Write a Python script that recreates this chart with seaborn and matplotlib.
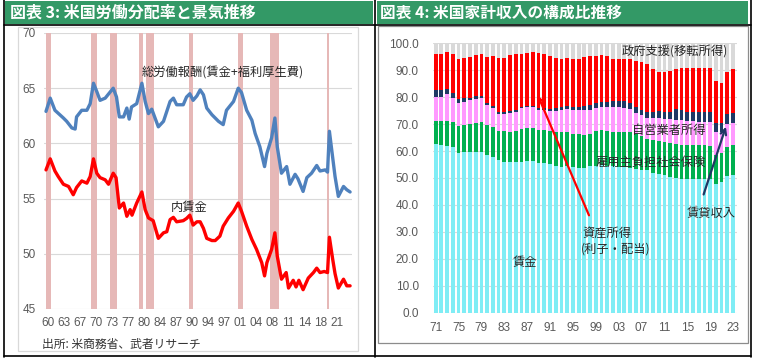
import numpy as np
import pandas as pd
import matplotlib
matplotlib.use("Agg")
import matplotlib.pyplot as plt
import seaborn as sns
from matplotlib.patches import Rectangle
from matplotlib.lines import Line2D

# ---------------- Left chart data: US labour share (%) ----------------
total_years = [1960.0, 1960.9, 1961.9, 1963.7, 1964.4, 1965.5, 1966.2, 1966.5, 1967.6, 1968.7,
               1969.4, 1970.1, 1970.8, 1971.5, 1972.6, 1974.3, 1975.0, 1975.6, 1976.5, 1977.2,
               1977.7, 1978.2, 1979.3, 1980.4, 1981.1, 1981.8, 1982.5, 1983.9, 1985.0, 1986.4,
               1987.1, 1987.8, 1989.2, 1989.9, 1990.6, 1991.3, 1992.1, 1992.8, 1993.5, 1994.2,
               1995.3, 1996.0, 1996.7, 1997.7, 1998.4, 1999.9, 2000.9, 2001.6, 2002.7, 2003.8,
               2004.5, 2005.5, 2006.5, 2007.0, 2008.0, 2008.7, 2009.2, 2010.1, 2011.2, 2011.9,
               2013.0, 2013.6, 2014.7, 2015.5, 2016.5, 2017.6, 2018.3, 2019.4, 2019.9, 2020.3,
               2021.0, 2021.5, 2022.2, 2023.3, 2024.0, 2024.7]
total_comp = [62.9, 64.1, 63.0, 62.3, 62.0, 61.4, 61.3, 62.4, 63.0, 63.0,
              63.6, 65.45, 64.7, 63.9, 64.1, 65.0, 64.2, 62.4, 62.4, 63.2,
              62.2, 63.3, 63.6, 65.45, 63.8, 62.7, 63.1, 61.5, 62.0, 63.8,
              64.1, 63.5, 63.5, 64.2, 64.5, 63.9, 64.3, 64.85, 64.4, 63.2,
              62.6, 62.3, 62.0, 61.7, 63.0, 63.8, 65.0, 64.6, 63.0, 62.1,
              60.9, 59.7, 57.9, 59.1, 60.5, 62.3, 59.7, 57.3, 57.9, 56.3,
              57.2, 56.8, 55.65, 56.9, 57.3, 58.0, 57.5, 57.6, 57.4, 61.1,
              58.7, 57.0, 55.2, 56.1, 55.8, 55.6]

wage_years = [1960.0, 1960.9, 1961.9, 1962.6, 1963.7, 1964.8, 1965.8, 1966.5, 1967.6, 1968.7,
              1969.4, 1970.1, 1970.8, 1971.5, 1972.6, 1973.3, 1974.3, 1974.9, 1975.6, 1976.5,
              1977.2, 1977.9, 1978.3, 1979.3, 1980.4, 1981.1, 1981.8, 1982.8, 1983.9, 1985.0,
              1985.7, 1986.4, 1987.1, 1987.8, 1989.2, 1989.9, 1990.6, 1991.3, 1992.1, 1992.8,
              1993.5, 1994.2, 1995.3, 1996.0, 1997.0, 1997.7, 1998.8, 1999.9, 2000.9, 2001.6,
              2002.7, 2003.8, 2004.8, 2005.9, 2006.5, 2007.0, 2008.0, 2008.7, 2009.2, 2010.1,
              2011.1, 2011.6, 2012.6, 2013.2, 2013.8, 2014.7, 2015.8, 2016.9, 2017.6, 2018.3,
              2019.2, 2019.9, 2020.3, 2021.0, 2021.5, 2022.2, 2023.3, 2024.0, 2024.7]
wage_share = [57.6, 58.6, 57.5, 57.0, 56.3, 56.1, 55.35, 56.0, 56.6, 56.4,
              57.0, 58.6, 57.3, 56.9, 56.7, 56.3, 57.3, 56.9, 54.15, 54.6,
              53.4, 54.0, 53.5, 54.6, 55.6, 54.0, 53.25, 53.0, 51.4, 51.9,
              52.0, 53.1, 53.3, 52.9, 53.0, 53.2, 53.5, 52.6, 52.9, 52.9,
              52.3, 51.4, 51.2, 51.2, 51.6, 52.5, 53.25, 53.85, 54.6, 53.85,
              52.5, 51.3, 50.4, 49.2, 48.0, 49.2, 50.4, 51.9, 49.8, 47.7,
              48.3, 46.9, 47.6, 47.0, 47.6, 46.75, 47.8, 48.3, 48.7, 48.3,
              48.4, 48.3, 51.5, 49.5, 48.2, 46.9, 47.7, 47.1, 47.1]

recession_start = [1959.95, 1969.6, 1973.6, 1979.8, 1981.3, 1990.4, 2000.85, 2007.65, 2019.75]
recession_end = [1961.0, 1970.8, 1975.0, 1980.6, 1982.9, 1991.2, 2001.85, 2009.5, 2020.2]

left_tick_labels = ["60", "63", "67", "70", "73", "77", "80", "84", "87", "90",
                    "94", "97", "01", "04", "08", "11", "14", "18", "21"]

# ---------------- Right chart data: household income composition (%) ----------------
years = list(range(1971, 2024))
wage = [62.5, 62.1, 61.7, 61.4, 59.2, 59.6, 59.5, 59.8, 59.8, 58.7,
        57.7, 56.5, 56.1, 55.9, 55.9, 56.1, 56.4, 56.4, 55.5, 55.4,
        55.1, 54.4, 54.2, 54.3, 53.9, 53.7, 53.8, 54.3, 54.6, 54.8,
        54.6, 54.3, 54.1, 54.0, 53.8, 53.5, 53.1, 52.8, 51.9, 51.6,
        51.0, 50.4, 50.0, 49.8, 49.8, 49.8, 49.8, 49.8, 49.8, 47.7,
        48.4, 50.6, 51.0]
employer_ins = [8.6, 9.2, 9.4, 9.4, 10.0, 10.0, 10.6, 10.5, 10.9, 11.0,
                11.1, 11.1, 11.2, 11.3, 11.6, 12.0, 12.1, 12.3, 12.3, 12.4,
                12.4, 12.8, 12.9, 12.6, 12.6, 12.6, 12.2, 12.2, 12.8, 12.9,
                12.9, 12.9, 13.0, 13.0, 13.1, 12.7, 12.4, 11.8, 12.1, 12.2,
                12.4, 12.6, 12.5, 12.4, 12.4, 12.4, 12.4, 12.4, 12.1, 10.7,
                10.7, 10.9, 11.2]
self_emp = [9.1, 8.9, 9.9, 9.0, 8.8, 8.7, 8.7, 9.1, 8.9, 7.5,
            7.1, 6.3, 6.6, 7.1, 7.0, 8.0, 7.9, 7.6, 7.6, 7.4,
            7.4, 7.8, 8.1, 8.6, 8.7, 8.9, 9.4, 8.9, 8.7, 8.5,
            8.9, 9.2, 9.3, 9.1, 8.7, 7.8, 7.9, 7.8, 8.2, 8.4,
            8.5, 8.9, 9.2, 9.3, 9.0, 9.0, 8.7, 8.6, 8.8, 8.5,
            7.8, 8.4, 8.1]
rent = [2.5, 2.5, 2.0, 1.7, 1.3, 1.5, 1.0, 1.0, 0.8, 0.8,
        0.7, 0.7, 0.7, 0.6, 0.7, 0.4, 0.3, 0.4, 0.5, 0.7,
        0.7, 1.0, 1.0, 1.2, 1.2, 1.2, 1.3, 1.6, 1.9, 2.1,
        1.9, 2.3, 2.2, 2.4, 2.1, 2.5, 1.8, 2.2, 2.4, 2.7,
        2.7, 2.7, 3.9, 3.7, 3.4, 3.2, 3.5, 3.6, 3.7, 3.4,
        3.4, 3.7, 3.7]
asset = [13.3, 13.3, 13.8, 14.5, 14.9, 14.7, 15.1, 15.3, 15.6, 16.9,
         18.7, 19.9, 19.9, 20.8, 20.8, 19.5, 19.7, 20.1, 20.5, 20.1,
         19.7, 18.5, 18.0, 17.8, 17.8, 17.8, 18.2, 18.3, 17.3, 17.4,
         17.0, 15.5, 15.6, 15.7, 16.6, 16.9, 18.0, 17.6, 15.7, 14.6,
         14.6, 15.1, 14.9, 15.5, 16.1, 16.3, 16.4, 16.4, 16.3, 15.8,
         14.8, 15.6, 16.3]
transfer = [4.0, 4.0, 3.2, 4.0, 5.8, 5.5, 5.1, 4.3, 4.0, 5.1,
            4.7, 5.5, 5.5, 4.3, 4.0, 4.0, 3.6, 3.2, 3.6, 4.0,
            4.7, 5.5, 5.8, 5.5, 5.8, 5.8, 5.1, 4.7, 4.7, 4.3,
            4.7, 5.8, 5.8, 5.8, 5.7, 6.6, 6.8, 7.8, 9.7, 10.5,
            10.8, 10.3, 9.5, 9.3, 9.3, 9.3, 9.2, 9.2, 9.3, 13.9,
            14.9, 10.8, 9.7]

comp_names = ["政府支援(移転所得)", "資産所得", "賃貸収入", "自営業者所得", "雇用主負担社会保険", "賃金"]
comp_values = [transfer, asset, rent, self_emp, employer_ins, wage]
comp_colors = ["#D9D9D9", "#FF0000", "#1F3864", "#FF99FF", "#00B050", "#7FEDF5"]
right_tick_years = list(range(1971, 2024, 4))

# ---------------- Styling ----------------
sns.set_style("white")
plt.rcParams["font.family"] = ["Noto Sans CJK JP", "DejaVu Sans"]
plt.rcParams["axes.unicode_minus"] = False

W, H = 759, 360
fig = plt.figure(figsize=(W / 100, H / 100), dpi=100)


def fx(x):
    return x / W


def fy(y):
    return 1 - y / H


TICK_COLOR = "#595959"
TXT = "#262626"

# frames / headers
for (x0, x1) in [(5, 372.5), (377, 748)]:
    fig.add_artist(Rectangle((fx(x0), fy(23.5)), fx(x1) - fx(x0), fy(1) - fy(23.5),
                             transform=fig.transFigure, facecolor="#339966",
                             edgecolor="none", zorder=0))
fig.text(fx(10), fy(12.5), "図表 3: 米国労働分配率と景気推移", color="white",
         fontsize=11.5, fontweight="bold", va="center", ha="left")
fig.text(fx(380), fy(12.5), "図表 4: 米国家計収入の構成比推移", color="white",
         fontsize=11.3, fontweight="bold", va="center", ha="left")

# light boxes around plot areas
fig.add_artist(Rectangle((fx(18.3), fy(350.7)), fx(358.3) - fx(18.3), fy(26.7) - fy(350.7),
                         transform=fig.transFigure, facecolor="none",
                         edgecolor="#D9D9D9", lw=0.9, zorder=0))
fig.add_artist(Rectangle((fx(378.3), fy(342.7)), fx(747.7) - fx(378.3), fy(26) - fy(342.7),
                         transform=fig.transFigure, facecolor="none",
                         edgecolor="#8C8C8C", lw=0.9, zorder=0))

# black table lines
for x in [3.8, 374.5, 750.8]:
    fig.add_artist(Line2D([fx(x), fx(x)], [fy(0), fy(357)], transform=fig.transFigure,
                          color="black", lw=1.2))
for y in [24.5, 356.3]:
    fig.add_artist(Line2D([fx(3.8), fx(750.8)], [fy(y), fy(y)], transform=fig.transFigure,
                          color="black", lw=1.2))

# ---------------- Left chart ----------------
axL = fig.add_axes([fx(44), fy(309), fx(352) - fx(44), fy(33) - fy(309)])
for s, e in zip(recession_start, recession_end):
    axL.axvspan(s, e, color="#E6B8B7", lw=0, zorder=1)
sns.lineplot(x=total_years, y=total_comp, ax=axL, color="#4F81BD", lw=2.4,
             estimator=None, sort=False, zorder=3)
sns.lineplot(x=wage_years, y=wage_share, ax=axL, color="#FF0000", lw=2.4,
             estimator=None, sort=False, zorder=3)
axL.set_xlim(1960 + (44 - 46) / 4.7, 1960 + (352 - 46) / 4.7)
axL.set_ylim(45, 70)
axL.set_yticks([45, 50, 55, 60, 65, 70])
axL.grid(axis="y", color="#D9D9D9", lw=0.8, zorder=0)
axL.grid(axis="x", visible=False)
axL.set_axisbelow(True)
for sp in axL.spines.values():
    sp.set_visible(False)
xt = np.linspace(1960.35, 2021.85, len(left_tick_labels))
axL.set_xticks(xt)
axL.set_xticklabels(left_tick_labels)
axL.tick_params(axis="x", length=3, width=0.8, color="#BFBFBF", pad=3,
                labelsize=8.5, labelcolor=TICK_COLOR)
axL.tick_params(axis="y", length=0, pad=6, labelsize=8.5, labelcolor=TICK_COLOR)
for lab in axL.get_xticklabels() + axL.get_yticklabels():
    lab.set_fontfamily(["Liberation Sans", "DejaVu Sans"])
axL.set_xlabel("")
axL.set_ylabel("")
axL.text(1997.7, 66.35, "総労働報酬(賃金+福利厚生費)", ha="center", va="center",
         fontsize=8.8, color=TXT, zorder=4)
axL.text(1990.4, 54.15, "内賃金", ha="center", va="center", fontsize=8.8, color=TXT, zorder=4)
fig.text(fx(42), fy(344), "出所: 米商務省、武者リサーチ", ha="left", va="center",
         fontsize=8.5, color="#333333")

# ---------------- Right chart ----------------
long = pd.DataFrame({
    "year": np.tile(years, len(comp_names)),
    "component": np.repeat(comp_names, len(years)),
    "value": np.concatenate([np.asarray(v, dtype=float) for v in comp_values]),
})
axR = fig.add_axes([fx(432.8), fy(312.7), fx(736.7) - fx(432.8), fy(43.3) - fy(312.7)])
sns.histplot(data=long, x="year", weights="value", hue="component",
             hue_order=comp_names, palette=dict(zip(comp_names, comp_colors)),
             multiple="stack", discrete=True, shrink=0.66, alpha=1, linewidth=0,
             legend=False, ax=axR, zorder=2)
axR.set_xlim(1970.5, 2023.64)
axR.set_ylim(0, 100)
axR.set_yticks(np.arange(0, 101, 10))
axR.set_yticklabels([f"{v:.1f}" for v in np.arange(0, 101, 10)])
axR.grid(axis="y", color="#D9D9D9", lw=0.8, zorder=0)
axR.grid(axis="x", visible=False)
axR.set_axisbelow(True)
for sp in axR.spines.values():
    sp.set_visible(False)
axR.set_xticks(right_tick_years)
axR.set_xticklabels([f"{y % 100:02d}" for y in right_tick_years])
axR.set_xticks([y - 0.5 for y in right_tick_years], minor=True)
axR.tick_params(axis="x", which="major", length=0, pad=7, labelsize=8.5, labelcolor=TICK_COLOR)
axR.tick_params(axis="x", which="minor", length=3, width=0.8, color="#BFBFBF")
axR.tick_params(axis="y", length=0, pad=10, labelsize=8.5, labelcolor=TICK_COLOR)
for lab in axR.get_xticklabels() + axR.get_yticklabels():
    lab.set_fontfamily(["Liberation Sans", "DejaVu Sans"])
axR.set_xlabel("")
axR.set_ylabel("")

fs = 8.8
axR.text(2012.8, 96.8, "政府支援(移転所得)", ha="center", va="center", fontsize=fs, color=TXT, zorder=5)
axR.text(2011.8, 67.8, "自営業者所得", ha="center", va="center", fontsize=fs, color=TXT, zorder=5)
axR.text(2008.6, 55.9, "雇用主負担社会保険", ha="center", va="center", fontsize=fs, color=TXT, zorder=5)
axR.text(2019.1, 37.0, "賃貸収入", ha="center", va="center", fontsize=fs, color=TXT, zorder=5)
axR.text(1996.6, 29.6, "資産所得", ha="left", va="center", fontsize=fs, color=TXT, zorder=5)
axR.text(1996.4, 23.6, "(利子・配当)", ha="left", va="center", fontsize=fs, color=TXT, zorder=5)
axR.text(1986.6, 18.8, "賃金", ha="center", va="center", fontsize=fs, color=TXT, zorder=5)
axR.annotate("", xy=(1988.7, 81.5), xytext=(1998.0, 35.2),
             arrowprops=dict(arrowstyle="->", color="#FF0000", lw=1.6, mutation_scale=10),
             zorder=6)
axR.annotate("", xy=(2021.9, 70.0), xytext=(2017.7, 42.9),
             arrowprops=dict(arrowstyle="->", color="#1F3864", lw=1.6, mutation_scale=10),
             zorder=6)

fig.savefig("out.png", dpi=100)
